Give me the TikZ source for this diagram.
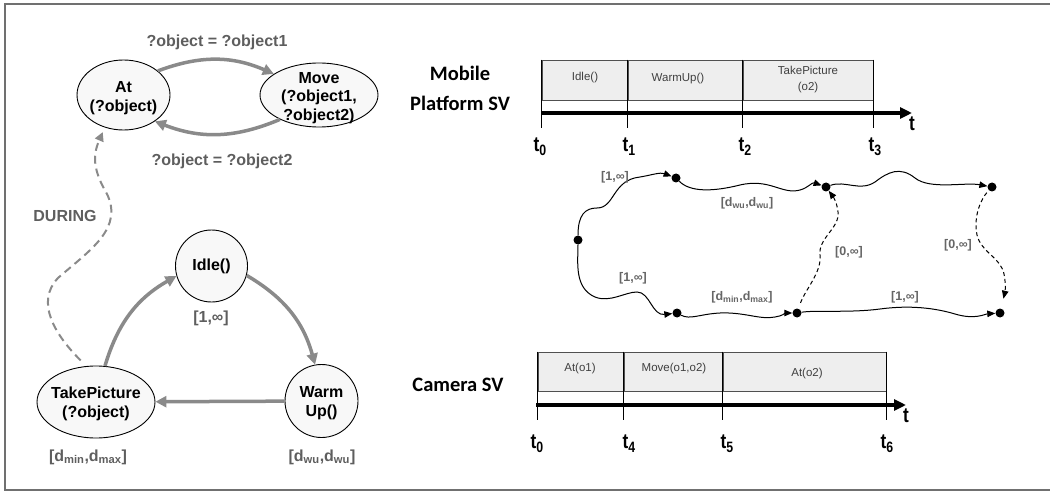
\documentclass[tikz,border=0pt]{standalone}
\usepackage{fontspec}
\setmainfont{Liberation Sans}
\newfontfamily\calibfont{Carlito}
\newfontfamily\condfont[FakeStretch=0.82]{Liberation Sans}
\usetikzlibrary{arrows.meta,shapes.geometric}

\definecolor{arrowgray}{HTML}{8A8A8A}
\definecolor{labelgray}{HTML}{5E5E5E}
\definecolor{nodefill}{HTML}{F8F8F8}
\definecolor{boxfill}{HTML}{EEEEEE}
\definecolor{boxline}{HTML}{505050}
\definecolor{boxtext}{HTML}{404040}
\definecolor{framegray}{HTML}{707070}
\definecolor{netlabel}{HTML}{666666}

% time point label: t with a large, low subscript
\newcommand{\tpoint}[1]{t\raisebox{-4pt}{\fontsize{15}{15}\selectfont #1}}

\begin{document}
\begin{tikzpicture}[x=1pt,y=-1pt,
  stateshape/.style={draw=black,line width=0.9pt,fill=nodefill,inner sep=0pt},
  stateell/.style={stateshape,ellipse},
  statecirc/.style={stateshape,circle,minimum size=72pt},
  statetext/.style={align=center,font=\fontsize{16}{19.5}\selectfont\bfseries},
  garrow/.style={draw=arrowgray,line width=3.5pt,-{Triangle[length=11pt,width=11pt]}},
  gdash/.style={draw=arrowgray,line width=2pt,dash pattern=on 8pt off 5pt,-{Triangle[length=9pt,width=9pt]}},
  glabel/.style={text=labelgray,font=\fontsize{16}{18}\selectfont\bfseries},
  svtitle/.style={align=center,font=\calibfont\fontsize{20.5}{30}\selectfont\bfseries},
  svbox/.style={draw=boxline,fill=boxfill,line width=0.8pt,inner sep=0pt,minimum height=40pt},
  svtext/.style={text=boxtext,align=center,font=\fontsize{11.5}{16}\selectfont},
  axis/.style={line width=3.5pt,-{Triangle[length=12pt,width=11pt]}},
  tickline/.style={line width=0.8pt},
  tlabel/.style={anchor=base,font=\condfont\fontsize{21}{22}\selectfont\bfseries},
  dot/.style={circle,fill=black,inner sep=0pt,minimum size=9pt},
  wave/.style={line width=1pt,-{Triangle[length=8pt,width=6.5pt]}},
  dwave/.style={wave,dash pattern=on 4pt off 3pt},
  nlabel/.style={text=netlabel,font=\fontsize{12.5}{14}\selectfont\bfseries},
]
\useasboundingbox (0,0) rectangle (1050,492);

% outer frame
\draw[framegray,line width=2pt] (1052,4) -- (5,4) -- (5,490) -- (1052,490);

% ---------- left: state machines ----------
\node[stateell,minimum width=93pt,minimum height=70pt] (at) at (123.5,95) {};
\node[statetext] (attext) at (123.5,98) {At\\(?object)};
\node[stateell,minimum width=118pt,minimum height=64pt] (move) at (319,95) {};
\node[statetext] (movetext) at (319,98) {Move\\[-1pt](?object1,\\[-1pt]?object2)};

\node[statecirc] (idle) at (211.5,266) {};
\node[statetext] (idletext) at (idle) {Idle()};
\node[statecirc,minimum size=73pt] (warm) at (321.5,401) {};
\node[statetext] (warmtext) at (321.5,403) {Warm\\Up()};
\node[stateell,minimum width=118pt,minimum height=72pt] (take) at (96,402) {};
\node[statetext] (taketext) at (96,404) {TakePicture\\(?object)};

\draw[garrow] (at.35) to[bend left=22] (move.155);
\draw[garrow] (move.212) to[bend left=22] (at.320);
\draw[garrow] (idle.-15) to[bend left=22] (warm.100);
\draw[garrow] (warm) -- (take);
\draw[garrow] (take.76) to[bend left=22] (idle.196);

\draw[gdash,shorten <=8pt,shorten >=5pt] (take.105) .. controls (55,335) and (35,302) .. (58,278)
  .. controls (90,250) and (125,228) .. (106,192) .. controls (90,165) and (95,150) .. (at.240);

\node[glabel] (labone) at (217,42) {?object = ?object1};
\node[glabel] (labtwo) at (222,161) {?object = ?object2};
\node[glabel] (during) at (65,216) {DURING};
\node[glabel] (idledur) at (211,318) {[1,∞]};
\node[glabel] (takedur) at (88,457) {[d\textsubscript{min},d\textsubscript{max}]};
\node[glabel] (warmdur) at (322,457) {[d\textsubscript{wu},d\textsubscript{wu}]};

% ---------- right: mobile platform timeline ----------
\node[svtitle] (mpsv) at (460,88) {Mobile\\Platform SV};

\node[svbox,minimum width=86pt] (b1) at (585,80) {};
\node[svbox,minimum width=115pt] (b2) at (685.5,80) {};
\node[svbox,minimum width=130pt] (b3) at (808,80) {};
\node[svtext] (b1t) at (585,78) {Idle()};
\node[svtext] (b2t) at (678,79) {WarmUp()};
\node[svtext] (b3t) at (808,80) {TakePicture\\(o2)};

\coordinate (ma) at (541,113);
\coordinate (mb) at (912,113);
\draw[axis] (ma) -- (mb);
\draw[tickline] (b1.north west) -- ++(0,68);
\draw[tickline] (b2.north west) -- ++(0,68);
\draw[tickline] (b3.north west) -- ++(0,68);
\draw[tickline] (b3.north east) -- ++(0,68);

\node[tlabel] (mt0) at (540,152) {\tpoint{0}};
\node[tlabel] (mt1) at (629,152) {\tpoint{1}};
\node[tlabel] (mt2) at (745,152) {\tpoint{2}};
\node[tlabel] (mt3) at (875,152) {\tpoint{3}};
\node[tlabel,anchor=center] (mt) at (912,124) {t};

% ---------- right: camera timeline ----------
\node[svtitle] (camsv) at (458,385) {Camera SV};

\node[svbox,minimum width=86pt,minimum height=39pt] (c1) at (581,371.5) {};
\node[svbox,minimum width=99pt,minimum height=39pt] (c2) at (673.5,371.5) {};
\node[svbox,minimum width=163pt,minimum height=39pt] (c3) at (804.5,371.5) {};
\node[svtext] (c1t) at (580,369) {At(o1)};
\node[svtext] (c2t) at (674,369) {Move(o1,o2)};
\node[svtext] (c3t) at (807,374) {At(o2)};

\coordinate (ca) at (536,405);
\coordinate (cb) at (906,405);
\draw[axis] (ca) -- (cb);
\draw[tickline] (c1.north west) -- ++(0,68);
\draw[tickline] (c2.north west) -- ++(0,68);
\draw[tickline] (c3.north west) -- ++(0,68);
\draw[tickline] (c3.north east) -- ++(0,68);

\node[tlabel] (ct0) at (537,448) {\tpoint{0}};
\node[tlabel] (ct4) at (629,448) {\tpoint{4}};
\node[tlabel] (ct5) at (727,448) {\tpoint{5}};
\node[tlabel] (ct6) at (887,448) {\tpoint{6}};
\node[tlabel,anchor=center] (ct) at (906,416) {t};

% ---------- temporal network ----------
\node[dot] (A) at (578,240) {};
\node[dot] (B) at (676,178) {};
\node[dot] (C) at (826,187) {};
\node[dot] (D) at (992,187) {};
\node[dot] (E) at (677,313) {};
\node[dot] (F) at (797,313) {};
\node[dot] (G) at (1000,313) {};

\draw[wave] (A) .. controls (578,215) and (585,208) .. (597,208)
  .. controls (615,208) and (612,180) .. (640,177) .. controls (652,175) and (660,172) .. (B);
\draw[wave] (B) .. controls (690,192) and (712,192) .. (740,185)
  .. controls (770,178) and (782,195) .. (800,190) .. controls (808,188) and (812,182) .. (C);
\draw[wave] (C) .. controls (845,180) and (860,192) .. (875,182)
  .. controls (888,172) and (900,166) .. (915,178) .. controls (930,190) and (965,182) .. (D);
\draw[wave] (A) .. controls (578,262) and (574,288) .. (595,297)
  .. controls (610,303) and (625,292) .. (637,292) .. controls (650,292) and (652,316) .. (E);
\draw[wave] (E) .. controls (690,320) and (700,314) .. (720,313)
  .. controls (745,312) and (760,320) .. (775,317) .. controls (782,316) and (786,313) .. (F);
\draw[wave] (F) .. controls (815,310) and (850,313) .. (880,309)
  .. controls (910,305) and (935,308) .. (955,314) .. controls (975,320) and (985,314) .. (G);
\draw[dwave,shorten <=6pt] (F) .. controls (805,290) and (822,272) .. (820,255)
  .. controls (818,238) and (840,228) .. (838,212) .. controls (837,203) and (834,198) .. (C);
\draw[dwave,shorten <=3pt,shorten >=10pt] (D) .. controls (982,198) and (973,215) .. (977,235)
  .. controls (981,252) and (1001,258) .. (1004,274) .. controls (1006,284) and (1005,292) .. (G);

\node[nlabel] (lab1) at (615,177) {[1,∞]};
\node[nlabel] (lab2) at (747,203) {[d\textsubscript{wu},d\textsubscript{wu}]};
\node[nlabel] (lab3) at (633,278) {[1,∞]};
\node[nlabel] (lab4) at (742,297) {[d\textsubscript{min},d\textsubscript{max}]};
\node[nlabel] (lab5) at (905,297) {[1,∞]};
\node[nlabel] (lab6) at (849,252) {[0,∞]};
\node[nlabel] (lab7) at (958,245) {[0,∞]};
\end{tikzpicture}
\end{document}
